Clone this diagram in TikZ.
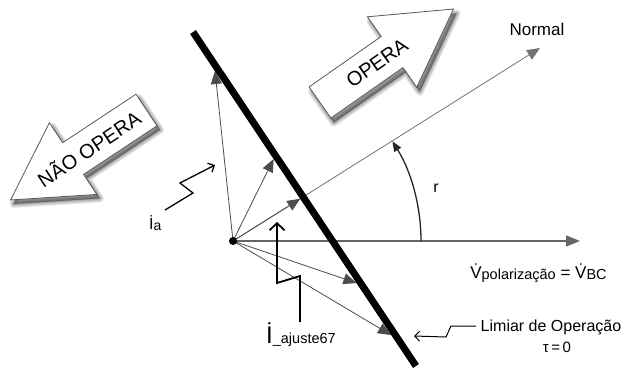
\documentclass[tikz,border=0pt]{standalone}
\usepackage{fontspec}
\setmainfont{Liberation Sans}
\usetikzlibrary{arrows.meta}
\begin{document}
\begin{tikzpicture}[x=1pt,y=-1pt,
  vec/.style={draw=black!70, line width=0.8pt, -{Triangle[length=13pt,width=11pt]}},
  axisline/.style={draw=black!60, line width=1.2pt, -{Triangle[length=14pt,width=11pt]}},
  normline/.style={draw=black!55, line width=0.8pt, -{Triangle[length=13pt,width=11pt]}},
  bolt/.style={draw=black, line width=1.3pt, line join=miter, -{Straight Barb[length=5pt,width=10pt]}},
  bigbolt/.style={draw=black, line width=1.8pt, line join=miter, -{Straight Barb[length=7pt,width=15pt]}},
  blockarrow/.style={fill=white, draw=black!65, line width=0.8pt, line join=miter},
  shadowlayer/.style={fill=black, draw=black, line join=round, opacity=0.09},
  arrowshape/.style={insert path={(0,-19) -- (88,-19) -- (88,-43) -- (163,0) -- (88,43) -- (88,19) -- (0,19) -- cycle}},
  bigtxt/.style={font=\fontsize{20}{22}\selectfont},
  txt/.style={font=\fontsize{16}{18}\selectfont}
]
\fill[white] (0,0) rectangle (625,372);
\useasboundingbox (0,0) rectangle (625,372);

% ---- block arrows with soft shadows ----
\begin{scope}[shift={(323,107)}, rotate=35]
  \foreach \w in {8,6,4,2,0.5} {\path[shadowlayer, line width=\w pt, arrowshape];}
\end{scope}
\begin{scope}[shift={(320,102.5)}, rotate=35]
  \path[blockarrow, arrowshape];
\end{scope}
\node[bigtxt, rotate=35] (opera) at (377,63) {OPERA};

\begin{scope}[shift={(149.5,114)}, rotate=213.5]
  \foreach \w in {8,6,4,2,0.5} {\path[shadowlayer, line width=\w pt, arrowshape];}
\end{scope}
\begin{scope}[shift={(146.5,110)}, rotate=213.5]
  \path[blockarrow, arrowshape];
\end{scope}
\node[bigtxt, rotate=33.5] (naoopera) at (88.5,148) {NÃO OPERA};

% ---- coordinates ----
\coordinate (O) at (233,241);
\coordinate (Ltop) at (193,32);
\coordinate (Lbot) at (416,366);
\coordinate (T1) at (215,71);
\coordinate (T2) at (273.6,159);
\coordinate (T3) at (300.3,198.8);
\coordinate (T4) at (356.4,283);
\coordinate (T5) at (391,335);
\coordinate (Nend) at (540,48);
\coordinate (Hend) at (580,241);

% ---- axes ----
\draw[axisline] (O) -- (Hend);
\draw[normline] (O) -- (Nend);

% ---- vectors ----
\draw[vec] (O) -- (T1);
\draw[vec] (O) -- (T2);
\draw[vec] (O) -- (T3);
\draw[vec] (O) -- (T4);
\draw[vec] (O) -- (T5);

% ---- operating threshold line ----
\draw[line width=7pt, black] (Ltop) -- (Lbot);

\node[circle, fill=black, inner sep=0pt, minimum size=8pt] (Odot) at (O) {};

% ---- angle arc ----
\draw[line width=1.3pt, black!85, -{Triangle[length=10pt,width=8pt]}] (O) ++(188,0) arc[start angle=0, end angle=-32, radius=188];
\node[txt] (r) at (436,188) {r};

% ---- labels ----
\node[font=\fontsize{17}{19}\selectfont] (normal) at (537,29) {Normal};
\node[txt] (limiar) at (551,327) {Limiar de Operação};
\node[font=\fontsize{15}{17}\selectfont] (tau) at (557,347) {τ\,=\,0};
\node[font=\fontsize{17}{19}\selectfont, anchor=base] (vpol) at (538.5,278)
  {\.{V}\raisebox{-1pt}{\fontsize{14.5}{15}\selectfont polarização} = \.{V}\raisebox{-1pt}{\fontsize{14.5}{15}\selectfont BC}};
\node[txt, anchor=base west, inner sep=0pt] (ia) at (149,229)
  {İ\raisebox{-1pt}{\fontsize{14}{15}\selectfont a}};
\node[anchor=base west, inner sep=0pt] (iaj) at (266,343)
  {{\fontsize{24}{26}\selectfont İ}{\fontsize{14.5}{16}\selectfont \_ajuste67}};

% ---- lightning pointers ----
\coordinate (ia0) at (165,210);
\coordinate (ia1) at (193,193);
\coordinate (ia2) at (180,183);
\coordinate (ia3) at (215,165);
\draw[bolt] (ia0) -- (ia1) -- (ia2) -- (ia3);

\coordinate (aj0) at (300,322);
\coordinate (aj1) at (300,276);
\coordinate (aj2) at (277,283);
\coordinate (aj3) at (277,222);
\draw[bigbolt] (aj0) -- (aj1) -- (aj2) -- (aj3);

\coordinate (lm0) at (476,326);
\coordinate (lm1) at (451,326);
\coordinate (lm2) at (446,337);
\coordinate (lm3) at (414,336);
\draw[bolt, line width=1pt] (lm0) -- (lm1) -- (lm2) -- (lm3);
\end{tikzpicture}
\end{document}
